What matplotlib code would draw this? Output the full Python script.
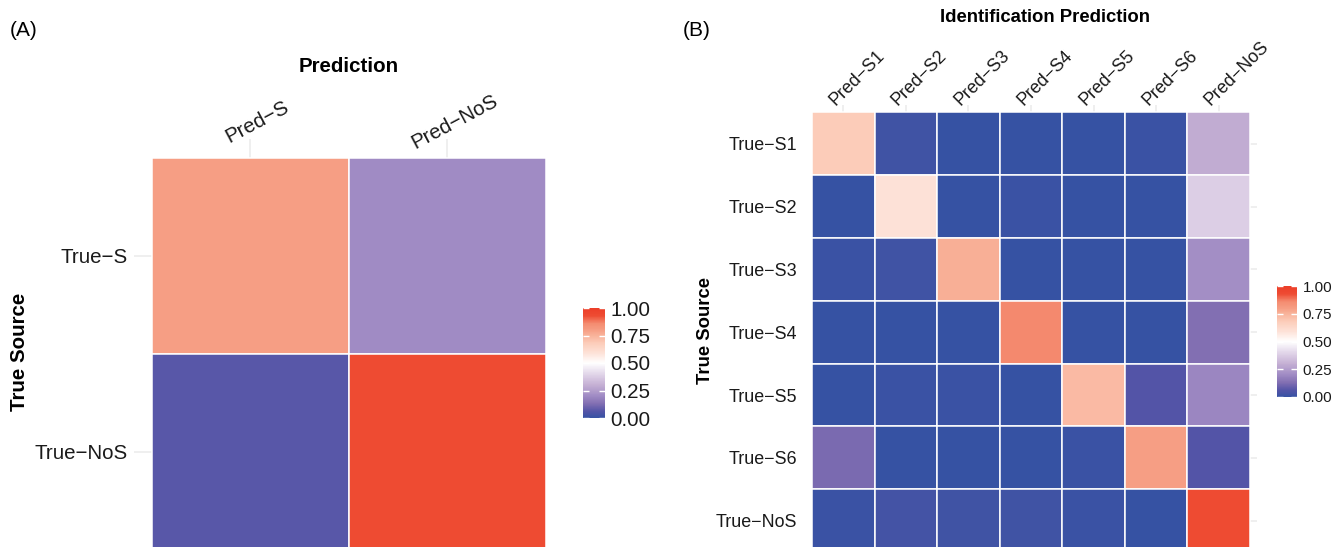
import matplotlib
matplotlib.use("Agg")
import matplotlib.pyplot as plt
import matplotlib.transforms as mtransforms
import numpy as np
from matplotlib.colors import LinearSegmentedColormap, Normalize
from matplotlib.cm import ScalarMappable

plt.rcParams['font.family'] = ['Liberation Sans', 'DejaVu Sans']

# panel A: binary source detection
a_pred = ["Pred\u2212S", "Pred\u2212NoS"]
a_true = ["True\u2212S", "True\u2212NoS"]
a_vals = [[0.80, 0.20],
          [0.07, 0.93]]

# panel B: source identification
b_pred = ["Pred\u2212S1", "Pred\u2212S2", "Pred\u2212S3", "Pred\u2212S4",
          "Pred\u2212S5", "Pred\u2212S6", "Pred\u2212NoS"]
b_true = ["True\u2212S1", "True\u2212S2", "True\u2212S3", "True\u2212S4",
          "True\u2212S5", "True\u2212S6", "True\u2212NoS"]
b_vals = [[0.68, 0.02, 0.00, 0.00, 0.00, 0.01, 0.29],
          [0.00, 0.59, 0.00, 0.01, 0.00, 0.00, 0.38],
          [0.01, 0.02, 0.76, 0.00, 0.00, 0.00, 0.21],
          [0.00, 0.00, 0.00, 0.86, 0.00, 0.00, 0.13],
          [0.00, 0.01, 0.01, 0.00, 0.73, 0.06, 0.19],
          [0.12, 0.00, 0.00, 0.00, 0.01, 0.80, 0.06],
          [0.01, 0.03, 0.02, 0.02, 0.01, 0.00, 0.93]]

# blue -> purple -> white -> salmon -> red
stops = [(0.00, (54, 82, 163)), (0.06, (84, 84, 167)), (0.13, (130, 111, 178)),
         (0.20, (160, 139, 196)), (0.30, (197, 176, 212)), (0.38, (220, 206, 229)),
         (0.50, (255, 255, 255)), (0.59, (253, 226, 216)), (0.68, (252, 205, 186)),
         (0.76, (248, 175, 150)), (0.80, (246, 158, 132)), (0.86, (244, 140, 112)),
         (0.93, (238, 76, 51)), (1.00, (236, 62, 40))]
cmap = LinearSegmentedColormap.from_list(
    "bwr_gg", [(v, tuple(c / 255 for c in rgb)) for v, rgb in stops])
norm = Normalize(0, 1)

W, H = 1337, 547
fig = plt.figure(figsize=(W / 100, H / 100), dpi=100)
TXT = '#1A1A1A'


def px_axes(l, t, r, b):
    return fig.add_axes([l / W, 1 - b / H, (r - l) / W, (b - t) / H])


def heat(ax, vals, ylabs, xlim, ylim):
    vals = np.array(vals)
    n, m = vals.shape
    ax.set_xlim(*xlim)
    ax.set_ylim(*ylim)
    for j in range(m):
        ax.axvline(j, color='#EBEBEB', lw=1.1, zorder=0)
    for i in range(n):
        ax.axhline(i, color='#EBEBEB', lw=1.1, zorder=0)
    for i in range(n):
        for j in range(m):
            ax.add_patch(plt.Rectangle((j - 0.5, i - 0.5), 1, 1,
                                       facecolor=cmap(norm(vals[i, j])),
                                       edgecolor='white', lw=1.1, zorder=2))
    for s in ax.spines.values():
        s.set_visible(False)
    ax.tick_params(length=0)
    ax.set_xticks([])
    ax.set_yticks(range(n))
    ax.set_yticklabels(ylabs)


def top_labels(ax, labs, rot, dx, dy, ha, va, fs):
    for j, lab in enumerate(labs):
        tr = ax.get_xaxis_transform() + mtransforms.ScaledTranslation(
            dx / 100, dy / 100, fig.dpi_scale_trans)
        ax.text(j, 1, lab, transform=tr, rotation=rot, rotation_mode='anchor',
                ha=ha, va=va, fontsize=fs, color=TXT, clip_on=False)


def colorbar(l, t, r, b, fs):
    cax = px_axes(l, t, r, b)
    cb = fig.colorbar(ScalarMappable(norm=norm, cmap=cmap), cax=cax)
    cb.outline.set_visible(False)
    cb.set_ticks([0, 0.25, 0.5, 0.75, 1.0])
    cb.set_ticklabels(["0.00", "0.25", "0.50", "0.75", "1.00"])
    cax.tick_params(axis='y', direction='in', color='white', length=4, width=1,
                    left=True, right=True, labelleft=False, labelright=True,
                    labelsize=fs, labelcolor=TXT, pad=4)


# ---- panel A (tile size ~196 px, light grid stubs on top and left)
axA = px_axes(134, 139, 546, 547)
heat(axA, a_vals, a_true, (-0.5 - 17.5 / 196, 1.5), (1.485, -0.5 - 19 / 196))
top_labels(axA, a_pred, 28, 7, 17, 'center', 'center', 14.8)
axA.tick_params(axis='y', labelsize=14.8, labelcolor=TXT, pad=4.5)
fig.text(349 / W, 1 - 66 / H, "Prediction", fontsize=14.8, fontweight='bold',
         ha='center', va='center')
fig.text(20 / W, 1 - 352 / H, "True Source", fontsize=14.8, fontweight='bold',
         rotation=90, ha='center', va='center')
fig.text(10 / W, 1 - 30 / H, "(A)", fontsize=15, ha='left', va='center')
colorbar(583, 308, 605, 418, 14.8)

# ---- panel B (tile size ~62.7 px, grid stubs on top and right)
axB = px_axes(812, 105, 1257, 547)
heat(axB, b_vals, b_true, (-0.5, 6.5 + 7 / 62.6), (6.42, -0.5 - 7.5 / 62.8))
top_labels(axB, b_pred, 45, -8, -1, 'left', 'baseline', 12.9)
axB.tick_params(axis='y', labelsize=12.9, labelcolor=TXT, pad=10.5)
fig.text(1045 / W, 1 - 17 / H, "Identification Prediction", fontsize=13.3,
         fontweight='bold', ha='center', va='center')
fig.text(705 / W, 1 - 330 / H, "True Source", fontsize=13.3, fontweight='bold',
         rotation=90, ha='center', va='center')
fig.text(683 / W, 1 - 30 / H, "(B)", fontsize=15, ha='left', va='center')
colorbar(1277, 286, 1297, 397, 11)

fig.savefig("out.png", dpi=100)
